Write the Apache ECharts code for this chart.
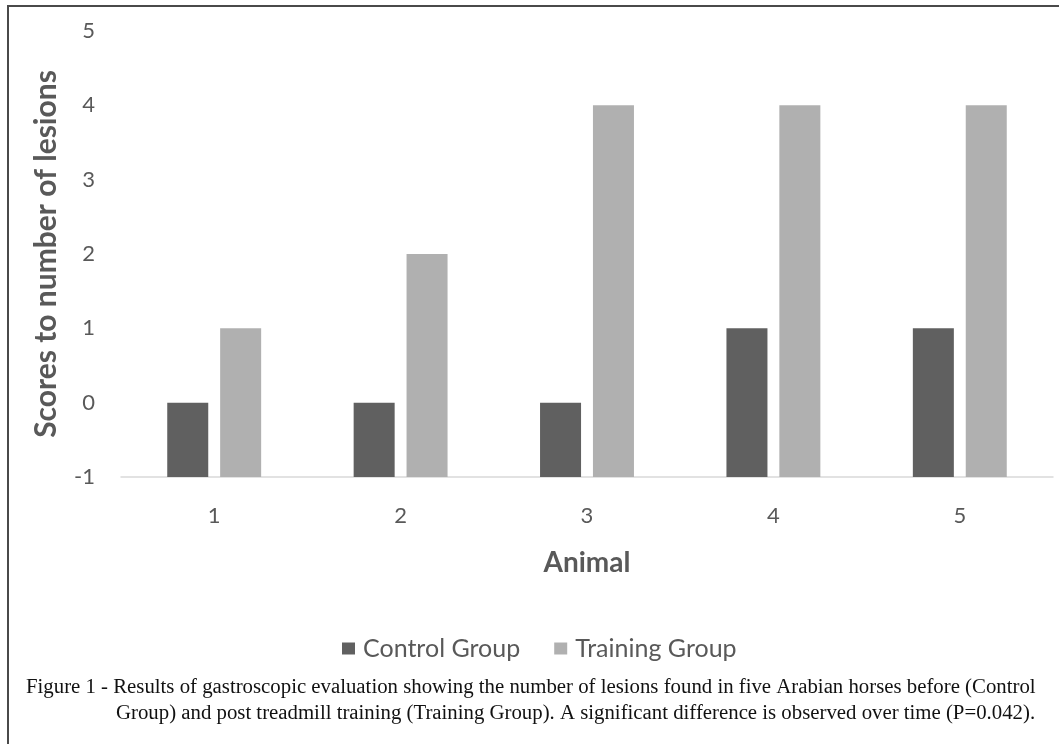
<!DOCTYPE html>
<html>
<head>
<meta charset="utf-8">
<script src="https://cdn.jsdelivr.net/npm/echarts@6/dist/echarts.min.js"></script>
<style>
  html, body { margin: 0; padding: 0; background: #fff; }
  #frame { position: absolute; left: 7px; top: 5px; width: 1060px; height: 745px;
           border-top: 2px solid #4a4a4a; border-left: 2px solid #4a4a4a; box-sizing: border-box; }
  #chart { position: absolute; left: 0; top: 0; width: 1059px; height: 744px; }
</style>
</head>
<body>
<div id="frame"></div>
<div id="chart"></div>
<script>
const categories = ['1', '2', '3', '4', '5'];
const controlGroup = [0, 0, 0, 1, 1];
const trainingGroup = [1, 2, 4, 4, 4];
const yMin = -1;
const yMax = 5;
const seriesNames = ['Control Group', 'Training Group'];
const captionLine1 = 'Figure 1 - Results of gastroscopic evaluation showing the number of lesions found in five Arabian horses before (Control';
const captionLine2 = 'Group) and post treadmill training (Training Group). A significant difference is observed over time (P=0.042).';

// Bars rise from the axis floor (yMin), so values are drawn relative to yMin
const shift = v => v - yMin;

const chart = echarts.init(document.getElementById('chart'), null, { renderer: 'canvas' });
const labelFont = 'Lato, "Open Sans", sans-serif';
const serifFont = '20.8px "Liberation Serif", "Times New Roman", serif';
chart.setOption({
  backgroundColor: 'transparent',
  animation: false,
  grid: { left: 121, right: 6, top: 31, bottom: 267 },
  xAxis: {
    type: 'category',
    data: categories,
    axisLine: { lineStyle: { color: '#d9d9d9', width: 1.5 } },
    axisTick: { show: false },
    axisLabel: { color: '#595959', fontSize: 22, fontFamily: labelFont, margin: 28 },
    name: 'Animal',
    nameLocation: 'middle',
    nameGap: 72,
    nameTextStyle: { color: '#595959', fontSize: 28, fontWeight: 'bold', fontFamily: labelFont }
  },
  yAxis: {
    type: 'value',
    min: 0,
    max: yMax - yMin,
    interval: 1,
    splitLine: { show: false },
    axisLine: { show: false },
    axisTick: { show: false },
    axisLabel: {
      color: '#595959', fontSize: 22, fontFamily: labelFont, margin: 26,
      formatter: v => String(v + yMin)
    },
    name: 'Scores to number of lesions',
    nameLocation: 'middle',
    nameGap: 60,
    nameTextStyle: { color: '#595959', fontSize: 30, fontWeight: 'bold', fontFamily: labelFont }
  },
  legend: {
    left: 337,
    top: 631,
    itemWidth: 13,
    itemHeight: 12,
    itemGap: 34,
    icon: 'rect',
    textStyle: { color: '#595959', fontSize: 25, fontFamily: labelFont, padding: [0, 0, 0, 3] },
    data: seriesNames
  },
  series: [
    {
      name: seriesNames[0], type: 'bar',
      data: controlGroup.map(shift),
      barWidth: '22%', barGap: '29%',
      itemStyle: { color: '#606060' }
    },
    {
      name: seriesNames[1], type: 'bar',
      data: trainingGroup.map(shift),
      barWidth: '22%', barGap: '29%',
      itemStyle: { color: '#b0b0b0' }
    }
  ],
  graphic: [
    { type: 'text', left: 26, top: 677,
      style: { text: captionLine1, fill: '#111', font: serifFont } },
    { type: 'text', left: 116, top: 703,
      style: { text: captionLine2, fill: '#111', font: serifFont } }
  ]
});
</script>
</body>
</html>
